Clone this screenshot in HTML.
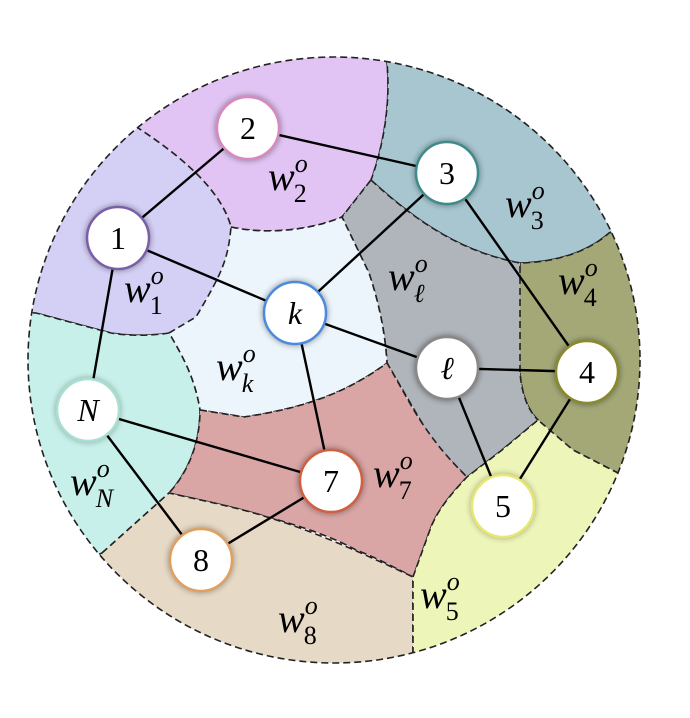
<!DOCTYPE html>
<html><head><style>html,body{margin:0;padding:0;background:#fff}svg{display:block}</style></head><body>
<svg width="690" height="718" viewBox="0 0 690 718" xmlns="http://www.w3.org/2000/svg">
<defs>
<clipPath id="c"><ellipse cx="334" cy="360" rx="306" ry="303"/></clipPath>
<filter id="sh" x="-50%" y="-50%" width="200%" height="200%"><feGaussianBlur stdDeviation="3"/></filter>
</defs>
<g clip-path="url(#c)" stroke="#222" stroke-width="1.6" stroke-dasharray="7,4">
<path fill="#e1c4f3" d="M100,100 L138,128 C187,160 222,193 231,227 C267,235 311,230 342,217 L371,180 C382,150 391,107 387,63 L387,0 L100,0 Z"/>
<path fill="#a7c6d0" d="M387,0 L387,63 C391,107 382,150 371,180 C422,227 467,253 520,263 C560,262 590,250 609,233 L700,200 L700,0 Z"/>
<path fill="#a3a876" d="M520,263 C518,307 518,350 520,373 C522,395 528,410 538,420 C550,435 565,445 573,450 L618,473 L700,480 L700,200 L609,233 C590,250 560,262 520,263 Z"/>
<path fill="#afb5bb" d="M371,180 C422,227 467,253 520,263 L520,373 C522,395 528,410 538,420 L502,450 L467,477 C445,455 430,440 422,423 L387,363 C385,330 378,300 369,273 L342,217 Z"/>
<path fill="#edf5fc" d="M231,227 C267,235 311,230 342,217 L369,273 C378,300 385,330 387,363 C350,390 311,407 244,417 L200,410 C195,380 185,360 169,333 C196,317 222,273 231,227 Z"/>
<path fill="#d4d0f5" d="M100,100 L138,128 C187,160 222,193 231,227 C228,260 222,273 196,317 L169,333 C140,338 111,333 111,333 L36,313 L0,313 L0,100 Z"/>
<path fill="#c8f0eb" d="M0,313 L36,313 L111,333 C140,338 169,333 169,333 C185,360 195,380 200,410 C200,440 190,470 169,493 L102,553 L0,600 Z"/>
<path fill="#d9a5a5" d="M200,410 L244,417 C311,407 350,390 387,363 C400,385 410,405 422,423 C440,450 455,465 467,477 C450,495 438,510 431,527 L413,577 C390,565 370,555 356,550 C320,530 267,517 267,517 C240,508 200,500 169,493 C190,470 200,440 200,410 Z"/>
<path fill="#e6d9c5" d="M102,553 L169,493 C200,500 240,508 267,517 C310,530 356,550 413,577 L413,720 L0,720 L0,600 Z"/>
<path fill="#eef5b8" d="M413,720 L413,577 L431,527 C438,510 450,495 467,477 L502,450 L538,420 L573,450 L618,473 L700,480 L700,720 Z"/>
</g>
<ellipse cx="334" cy="360" rx="306" ry="303" fill="none" stroke="#222" stroke-width="1.6" stroke-dasharray="7,4"/>
<g stroke="#000" stroke-width="2.4">
<line x1="118" y1="238" x2="248" y2="128"/><line x1="248" y1="128" x2="447" y2="173"/>
<line x1="118" y1="238" x2="295" y2="313"/><line x1="118" y1="238" x2="88" y2="410"/>
<line x1="447" y1="173" x2="295" y2="313"/><line x1="447" y1="173" x2="587" y2="372"/>
<line x1="295" y1="313" x2="447" y2="368"/><line x1="295" y1="313" x2="331" y2="481"/>
<line x1="447" y1="368" x2="587" y2="372"/><line x1="447" y1="368" x2="503" y2="506"/>
<line x1="587" y1="372" x2="503" y2="506"/><line x1="88" y1="410" x2="331" y2="481"/>
<line x1="88" y1="410" x2="201" y2="560"/><line x1="331" y1="481" x2="201" y2="560"/>
</g>
<g font-family="Liberation Serif, serif" font-size="32" text-anchor="middle">
<g><circle cx="248" cy="128" r="33" fill="#000" opacity=".35" filter="url(#sh)"/><circle cx="248" cy="128" r="31" fill="#fff" stroke="#d88ac0" stroke-width="2.5"/><text x="248" y="139">2</text></g>
<g><circle cx="447" cy="173" r="33" fill="#000" opacity=".35" filter="url(#sh)"/><circle cx="447" cy="173" r="31" fill="#fff" stroke="#3f8a8a" stroke-width="2.5"/><text x="447" y="184">3</text></g>
<g><circle cx="118" cy="238" r="33" fill="#000" opacity=".35" filter="url(#sh)"/><circle cx="118" cy="238" r="31" fill="#fff" stroke="#7a5ea8" stroke-width="2.5"/><text x="118" y="249">1</text></g>
<g><circle cx="295" cy="313" r="33" fill="#000" opacity=".35" filter="url(#sh)"/><circle cx="295" cy="313" r="31" fill="#fff" stroke="#4a8be0" stroke-width="2.5"/><text x="295" y="324" font-style="italic">k</text></g>
<g><circle cx="447" cy="368" r="33" fill="#000" opacity=".35" filter="url(#sh)"/><circle cx="447" cy="368" r="31" fill="#fff" stroke="#888" stroke-width="2.5"/><text x="447" y="379" font-style="italic">ℓ</text></g>
<g><circle cx="587" cy="372" r="33" fill="#000" opacity=".35" filter="url(#sh)"/><circle cx="587" cy="372" r="31" fill="#fff" stroke="#8a8a2a" stroke-width="2.5"/><text x="587" y="383">4</text></g>
<g><circle cx="88" cy="410" r="33" fill="#000" opacity=".25" filter="url(#sh)"/><circle cx="88" cy="410" r="31" fill="#fff" stroke="#a8e0d0" stroke-width="2.5"/><text x="88" y="421" font-style="italic">N</text></g>
<g><circle cx="331" cy="481" r="33" fill="#000" opacity=".35" filter="url(#sh)"/><circle cx="331" cy="481" r="31" fill="#fff" stroke="#d06040" stroke-width="2.5"/><text x="331" y="492">7</text></g>
<g><circle cx="503" cy="506" r="33" fill="#000" opacity=".25" filter="url(#sh)"/><circle cx="503" cy="506" r="31" fill="#fff" stroke="#e8e870" stroke-width="2.5"/><text x="503" y="517">5</text></g>
<g><circle cx="201" cy="560" r="33" fill="#000" opacity=".3" filter="url(#sh)"/><circle cx="201" cy="560" r="31" fill="#fff" stroke="#e0a060" stroke-width="2.5"/><text x="201" y="571">8</text></g>
</g>
<g font-family="Liberation Serif, serif" font-style="italic" font-size="40">
<text x="268" y="190">w<tspan font-size="26" dy="-18">o</tspan><tspan font-size="26" dx="-14" dy="30" font-style="normal">2</tspan></text>
<text x="505" y="217">w<tspan font-size="26" dy="-18">o</tspan><tspan font-size="26" dx="-14" dy="30" font-style="normal">3</tspan></text>
<text x="388" y="290">w<tspan font-size="26" dy="-18">o</tspan><tspan font-size="26" dx="-14" dy="30">ℓ</tspan></text>
<text x="558" y="294">w<tspan font-size="26" dy="-18">o</tspan><tspan font-size="26" dx="-14" dy="30" font-style="normal">4</tspan></text>
<text x="124" y="302">w<tspan font-size="26" dy="-18">o</tspan><tspan font-size="26" dx="-14" dy="30" font-style="normal">1</tspan></text>
<text x="216" y="380">w<tspan font-size="26" dy="-18">o</tspan><tspan font-size="26" dx="-14" dy="30">k</tspan></text>
<text x="373" y="487">w<tspan font-size="26" dy="-18">o</tspan><tspan font-size="26" dx="-14" dy="30" font-style="normal">7</tspan></text>
<text x="70" y="495">w<tspan font-size="26" dy="-18">o</tspan><tspan font-size="26" dx="-14" dy="30">N</tspan></text>
<text x="420" y="608">w<tspan font-size="26" dy="-18">o</tspan><tspan font-size="26" dx="-14" dy="30" font-style="normal">5</tspan></text>
<text x="278" y="632">w<tspan font-size="26" dy="-18">o</tspan><tspan font-size="26" dx="-14" dy="30" font-style="normal">8</tspan></text>
</g>
</svg>
</body></html>
